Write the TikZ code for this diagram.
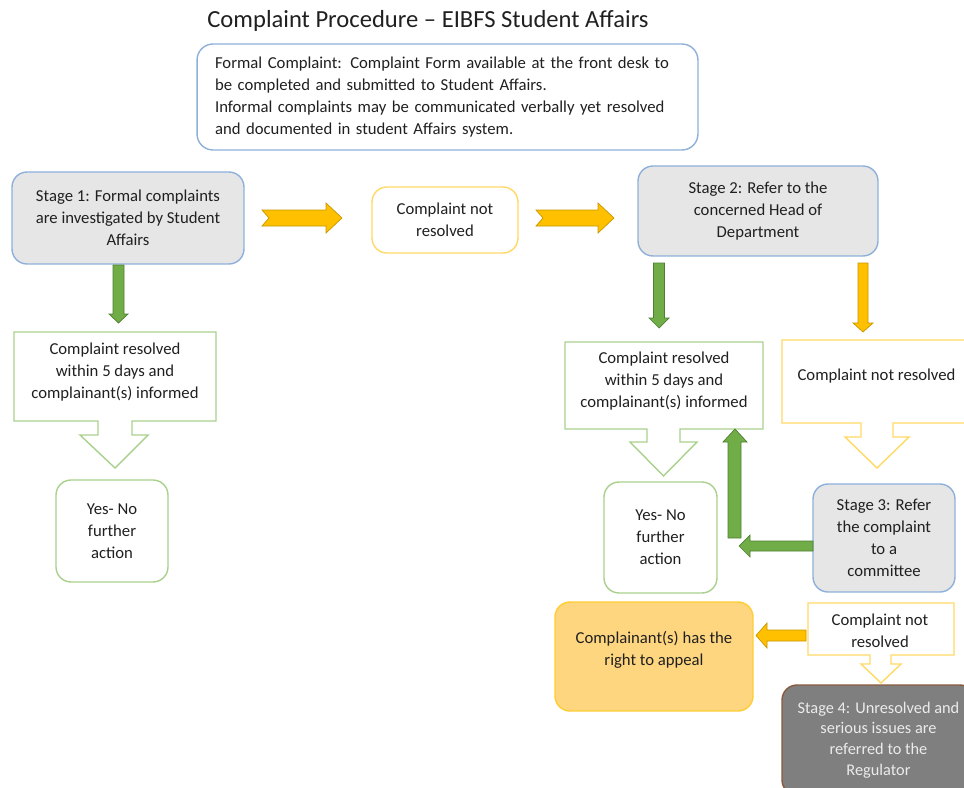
\documentclass[tikz,border=0pt]{standalone}
\usepackage{fontspec}
\setmainfont{Carlito}

\definecolor{edgeblue}{HTML}{8EB0DA}
\definecolor{stagegray}{HTML}{E7E6E6}
\definecolor{edgegreen}{HTML}{A9D18E}
\definecolor{edgeyellow}{HTML}{FFD966}
\definecolor{arrowgreen}{HTML}{70AD47}
\definecolor{arrowgreendk}{HTML}{507E32}
\definecolor{arrowyellow}{HTML}{FFC000}
\definecolor{arrowyellowdk}{HTML}{C89600}
\definecolor{appealfill}{HTML}{FFD680}
\definecolor{regfill}{HTML}{7F7F7F}
\definecolor{regedge}{HTML}{8A5A3E}
\definecolor{inktext}{HTML}{202020}

\tikzset{
  stagebox/.style={draw=edgeblue, fill=stagegray, line width=0.8pt, rounded corners=0.3cm, align=center},
  greenbox/.style={draw=edgegreen, fill=white, line width=0.8pt, rounded corners=0.3cm, align=center},
  yellowbox/.style={draw=edgeyellow, fill=white, line width=0.8pt, rounded corners=0.3cm, align=center},
  callgreen/.style={draw=edgegreen, fill=white, line width=0.8pt},
  callyellow/.style={draw=edgeyellow, fill=white, line width=0.8pt},
  greenarrow/.style={fill=arrowgreen, draw=arrowgreendk, line width=0.4pt},
  yellowarrow/.style={fill=arrowyellow, draw=arrowyellowdk, line width=0.4pt},
  plaintext/.style={align=center, inner sep=0pt}
}

\begin{document}
\begin{tikzpicture}[x=0.02cm, y=-0.02cm, text=inktext,
    font=\fontsize{9.5}{12.6}\selectfont]

\useasboundingbox (0,0) rectangle (964,788);
\clip (0,0) rectangle (964,788);

% Title and note
\node[font=\fontsize{14}{16}\selectfont] (title) at (428,21)
  {Complaint Procedure – EIBFS Student Affairs};
\node[draw=edgeblue, fill=white, line width=0.8pt, rounded corners=0.32cm,
      minimum width=10.02cm, minimum height=2.12cm, text width=9.3cm,
      align=left, inner sep=0pt] (note) at (447.5,97)
  {Formal Complaint: Complaint Form available at the front desk to\\
   be completed and submitted to Student Affairs.\\
   Informal complaints may be communicated verbally yet resolved\\
   and documented in student Affairs system.};

% Top row
\node[stagebox, minimum width=4.64cm, minimum height=1.84cm] (stage1) at (128,218)
  {Stage 1: Formal complaints\\ are investigated by Student\\ Affairs};
\node[yellowbox, minimum width=2.92cm, minimum height=1.32cm] (open1) at (445,220)
  {Complaint not\\ resolved};
\node[stagebox, minimum width=4.8cm, minimum height=1.8cm] (stage2) at (758,211)
  {Stage 2: Refer to the\\ concerned Head of\\ Department};

\filldraw[yellowarrow] (262,210) -- (326,210) -- (326,203) -- (342,218) -- (326,233)
  -- (326,226) -- (262,226) -- (269,218) -- cycle;
\filldraw[yellowarrow] (536,210) -- (598,210) -- (598,203) -- (614,218) -- (598,233)
  -- (598,226) -- (536,226) -- (543,218) -- cycle;

% Left column
\filldraw[greenarrow] (113,265) -- (124,265) -- (124,314) -- (128,314) -- (118.5,323)
  -- (109,314) -- (113,314) -- cycle;
\draw[callgreen] (14,332) -- (216,332) -- (216,421) -- (132,421) -- (132,435) -- (148,435)
  -- (115,468) -- (80,435) -- (98,435) -- (98,421) -- (14,421) -- cycle;
\node[plaintext] (done1) at (115,372)
  {Complaint resolved\\ within 5 days and\\ complainant(s) informed};
\node[greenbox, minimum width=2.24cm, minimum height=2.04cm] (yes1) at (112,531)
  {Yes- No\\ further\\ action};

% Right column
\filldraw[greenarrow] (653.5,263) -- (664.5,263) -- (664.5,318) -- (669,318) -- (659,328)
  -- (649,318) -- (653.5,318) -- cycle;
\filldraw[yellowarrow] (858,263) -- (868,263) -- (868,323) -- (873,323) -- (863,332)
  -- (853,323) -- (858,323) -- cycle;

\draw[callgreen] (565,342) -- (763,342) -- (763,429) -- (680,429) -- (680,442) -- (697,442)
  -- (663.5,476) -- (630,442) -- (647,442) -- (647,429) -- (565,429) -- cycle;
\node[plaintext] (done2) at (664,381)
  {Complaint resolved\\ within 5 days and\\ complainant(s) informed};

\draw[callyellow] (782,340) -- (970,340) -- (970,423) -- (893,423) -- (893,437) -- (909,437)
  -- (877,468) -- (845,437) -- (861,437) -- (861,423) -- (782,423) -- cycle;
\node[plaintext] (open2) at (876.5,376) {Complaint not resolved};

\node[greenbox, minimum width=2.26cm, minimum height=2.22cm] (yes2) at (660.5,537.5)
  {Yes- No\\ further\\ action};
\node[stagebox, minimum width=2.84cm, minimum height=2.16cm] (stage3) at (884,538)
  {Stage 3: Refer\\ the complaint\\ to a\\ committee};

% back to resolved
\filldraw[greenarrow] (728,538) -- (728,442) -- (723,442) -- (735,429) -- (747,442)
  -- (741,442) -- (741,538) -- cycle;
\filldraw[greenarrow] (813,541) -- (750,541) -- (750,535) -- (739,546) -- (750,557)
  -- (750,551) -- (813,551) -- cycle;

% Bottom
\node[draw=arrowyellow!80, fill=appealfill, line width=0.8pt, rounded corners=0.3cm,
      minimum width=3.96cm, minimum height=2.18cm] (appeal) at (654,656.5) {};
\node[plaintext] (appealtext) at (654,649.5) {Complainant(s) has the\\ right to appeal};

\filldraw[yellowarrow] (806,630) -- (767,630) -- (767,623) -- (756,635.5) -- (767,648)
  -- (767,641) -- (806,641) -- cycle;

\draw[callyellow] (808,603) -- (954,603) -- (954,655) -- (891,655) -- (891,664) -- (901,664)
  -- (881,683) -- (861,664) -- (870,664) -- (870,655) -- (808,655) -- cycle;
\node[plaintext] (open3) at (880,631) {Complaint not\\ resolved};

\node[draw=regedge, fill=regfill, line width=0.8pt, rounded corners=0.3cm,
      minimum width=3.86cm, minimum height=2.2cm, text=white!92!black, align=center,
      font=\fontsize{9.3}{11.8}\selectfont]
  (stage4) at (878.5,740)
  {Stage 4: Unresolved and\\ serious issues are\\ referred to the\\ Regulator};

\end{tikzpicture}
\end{document}
